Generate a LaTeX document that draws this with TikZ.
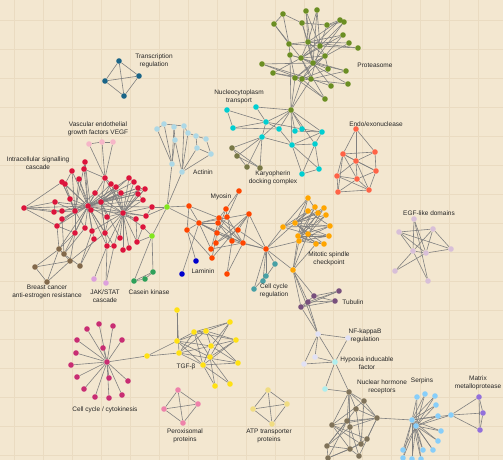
\documentclass[tikz,border=0pt]{standalone}
\usepackage{fontspec}
\setmainfont{Liberation Sans}
\pgfdeclarelayer{bg}
\pgfdeclarelayer{edges}
\pgfsetlayers{bg,edges,main}
\definecolor{paper}{RGB}{243,231,208}
\definecolor{gridc}{RGB}{234,219,193}
\definecolor{edgec}{RGB}{128,128,128}
\definecolor{ctr}{RGB}{26,100,135}
\definecolor{cvegf}{RGB}{246,182,200}
\definecolor{cred}{RGB}{220,20,60}
\definecolor{clime}{RGB}{130,230,30}
\definecolor{cact}{RGB}{173,216,230}
\definecolor{ccas}{RGB}{46,160,90}
\definecolor{cbr}{RGB}{130,105,75}
\definecolor{cjak}{RGB}{221,160,221}
\definecolor{cmyo}{RGB}{255,69,0}
\definecolor{clam}{RGB}{0,0,205}
\definecolor{cccr}{RGB}{72,160,165}
\definecolor{cmit}{RGB}{255,165,0}
\definecolor{ctub}{RGB}{120,80,125}
\definecolor{cnf}{RGB}{225,225,245}
\definecolor{chyp}{RGB}{175,238,238}
\definecolor{cnr}{RGB}{128,115,90}
\definecolor{cser}{RGB}{135,206,250}
\definecolor{cmmp}{RGB}{147,112,219}
\definecolor{cegf}{RGB}{216,191,216}
\definecolor{cendo}{RGB}{255,99,71}
\definecolor{cnuc}{RGB}{0,206,209}
\definecolor{ckar}{RGB}{120,120,70}
\definecolor{cpro}{RGB}{107,142,35}
\definecolor{ccyt}{RGB}{200,45,115}
\definecolor{ctgf}{RGB}{255,225,20}
\definecolor{cper}{RGB}{238,130,170}
\definecolor{catp}{RGB}{240,220,130}
\tikzset{
  dot/.style={circle,inner sep=0pt,minimum size=5.6pt,draw=none},
  edge/.style={draw=edgec,line width=0.6pt},
  lbl/.style={inner sep=0pt,align=center,font=\fontsize{6.5}{8}\selectfont,text=black!85}
}
\newcommand\placedots[2]{\foreach \n/\x/\y in {#2} \node[dot,fill=#1] (\n) at (\x,\y) {};}
\newcommand\links[1]{\foreach \a/\b in {#1} \draw[edge] (\a) -- (\b);}
\begin{document}
\begin{tikzpicture}[x=1pt,y=-1pt]
\useasboundingbox (0,0) rectangle (503,460);
\begin{pgfonlayer}{bg}
\fill[paper] (0,0) rectangle (503,460);
\foreach \g in {14,43,...,503} \draw[gridc,line width=0.4pt] (\g,0) -- (\g,460);
\foreach \g in {20,49,...,460} \draw[gridc,line width=0.4pt] (0,\g) -- (503,\g);
\end{pgfonlayer}
% ---------------- nodes
\placedots{ctr}{tr1/119/61,tr2/105/81,tr3/139/76,tr4/124/96}
\placedots{cvegf}{v1/89/144,v2/102/142,v3/113/142}
\placedots{cred}{r1/85/162,r2/72/171,r3/84/169,r4/105/178,r5/62/182,r6/65/184,r7/79/179,r8/129/178,r9/134/182,r10/111/184,r11/116/187,r12/138/188,r13/145/189,r14/95/193,r15/121/193,r16/138/194,r17/70/199,r18/55/202,r19/101/202,r20/143/200,r21/24/208,r22/54/212,r23/62/211,r24/75/211,r25/91/210,r26/152/207,r27/107/217,r28/123/213,r29/136/219,r30/146/216,r31/62/219,r32/57/226,r33/75/233,r34/85/228,r35/92/231,r36/105/233,r37/143/227,r38/94/239,r39/120/238,r40/107/246,r41/114/246,r42/123/250,r43/129/248,r44/137/242,rA/88/206}
\placedots{clime}{L1/167/207,L2/152/236}
\placedots{cact}{a1/164/124,a2/157/129,a3/174/127,a4/184/126,a5/188/133,a6/196/136,a7/206/139,a8/175/140,a9/197/148,a10/211/154,a11/172/164,a12/182/172}
\placedots{ccas}{c1/134/281,c2/145/279,c3/153/272}
\placedots{cbr}{b1/59/249,b2/64/254,b3/70/261,b4/80/266,b5/35/267,b6/47/282}
\placedots{cjak}{j1/94/279,j2/106/283}
\placedots{cmyo}{m1/239/191,m2/189/206,m3/226/209,m4/249/214,m5/199/223,m6/219/218,m7/227/217,m8/218/223,m9/187/230,m10/217/233,m11/238/230,m12/232/241,m13/216/243,m14/243/243,m15/211/249,m16/212/258,m17/227/274,mh/266/249}
\placedots{clam}{ln1/196/261,ln2/182/274}
\placedots{cccr}{t1/275/264,t2/266/276,t3/263/281,t4/254/289}
\placedots{cmit}{o1/308/198,o2/315/207,o3/308/211,o4/324/208,o5/318/213,o6/326/215,o7/295/223,o8/283/227,o9/330/226,o10/298/236,o11/308/234,o12/329/236,o13/299/241,o14/316/244,o15/324/244,o16/293/270}
\placedots{ctub}{u1/339/291,u2/335/301,u3/314/296,u4/308/302,u5/301/307}
\placedots{cnf}{n1/318/334,n2/348/338,n3/315/357,n4/304/364}
\placedots{chyp}{h1/335/362,h2/325/389}
\placedots{cnr}{nr1/349/392,nr2/364/401,nr3/356/409,nr4/377/418,nr5/347/421,nr6/332/425,nr7/350/427,nr8/367/439,nr9/361/444,nr10/350/449,nr11/327/446,nr12/359/456,nr13/328/458}
\placedots{cser}{sh/412/420,sh2/416/426,s1/417/397,s2/425/394,s3/435/396,s4/436/405,s5/438/416,s6/441/431,s7/438/441,s8/433/450,s9/403/450,s10/403/458,s11/412/459,s12/421/459,s13/423/450,sx/451/415}
\placedots{cmmp}{mm1/479/397,mm2/483/413,mm3/480/430}
\placedots{cegf}{e1/414/219,e2/399/232,e3/433/229,e4/413/251,e5/426/253,e6/451/249,e7/395/271,e8/428/281}
\placedots{cendo}{x1/356/129,x2/343/154,x3/375/152,x4/356/161,x5/376/171,x6/337/176,x7/357/179,x8/338/192,x9/369/190}
\placedots{cnuc}{nc1/227/110,nc2/256/107,nc3/266/122,nc4/233/128,nc5/279/129,nc6/262/137,nc7/295/131,nc8/302/129,nc9/322/132,nc10/292/145,nc11/315/144,nc12/302/174,nc13/319/169}
\placedots{ckar}{k1/232/148,k2/237/156,k3/247/167,k4/260/168}
\placedots{cpro}{oh/291/110,p1/283/14,p2/306/11,p3/317/10,p4/274/24,p5/302/23,p6/327/25,p7/340/20,p8/344/22,p9/343/35,p10/289/44,p11/308/42,p12/320/46,p13/349/43,p14/358/48,p15/290/55,p16/301/58,p17/313/63,p18/325/56,p19/262/64,p20/328/69,p21/346/71,p22/273/73,p23/295/78,p24/302/79,p25/311/79,p26/331/86,p27/348/84,p28/325/99}
\placedots{ccyt}{cyh/107/362,cy1/87/329,cy2/99/324,cy3/113/326,cy4/77/340,cy5/122/340,cy6/103/348,cy7/76/353,cy8/71/365,cy9/77/377,cy10/109/378,cy11/128/381,cy12/84/389,cy13/122/395,cy14/95/397,cy15/109/398}
\placedots{ctgf}{y1/147/356,y2/177/310,y3/194/332,y4/206/331,y5/230/322,y6/177/341,y7/211/346,y8/236/340,y9/179/353,y10/210/357,y11/203/365,y12/238/363,y13/215/386,y14/230/384}
\placedots{cper}{pp1/178/390,pp2/164/409,pp3/198/404,pp4/183/423}
\placedots{catp}{at1/268/390,at2/253/409,at3/287/404,at4/272/424}
% ---------------- edges
\begin{pgfonlayer}{edges}
\links{tr1/tr2,tr1/tr3,tr2/tr3,tr1/tr4,tr2/tr4,tr3/tr4}
\links{v1/v2,v2/v3,v1/r4,v2/r4,v3/r4}
\foreach \i in {1,...,27,29,30,31,32,33,34,35,36,38,40,41} \draw[edge] (rA) -- (r\i);
\foreach \i in {4,8,9,10,11,12,13,14,15,16,19,20,25,26,27,29,30,35,36,37,39,40,41,42,43,44} \draw[edge] (r28) -- (r\i);
\foreach \i in {1,2,6,7,17,22,31,32,33,34,14,19,5,18} \draw[edge] (r24) -- (r\i);
\foreach \i in {4,8,10,11,15,27,36,39,40,12,16} \draw[edge] (r19) -- (r\i);
\links{r21/r18,r21/r22,r21/r5,r21/r32,r21/r23,r1/r3,r3/r4,r2/r6,r5/r17,r18/r22,r32/r33,r8/r9,r12/r13,r16/r20,r29/r44,r42/r43,r40/r41,r37/r44,r26/r30,r13/r28,r11/r36,r7/r25,r4/r10,r1/r25}
\links{L1/a11,L1/a12,L1/r26,L1/r30,L1/L2,L1/m2,L1/m5,L2/r37,L2/r44,L2/c3,L2/c1}
\links{a2/a1,a1/a4,a2/a11,a1/a11,a3/a11,a8/a11,a3/a8,a4/a5,a5/a6,a6/a7,a6/a9,a7/a10,a9/a10,a9/a12,a10/a12,a5/a12,a8/a12,a4/a12}
\links{c1/c2,c2/c3,c1/c3}
\links{b5/b1,b5/b3,b5/b6,b6/b1,b6/b3,b1/b2,b2/b4,b1/b3,b1/r32,b1/r33,b2/r34,b3/r33,b4/r38,b2/rA,b1/rA,b4/r35,b3/r36,b2/r31}
\links{j1/r40,j2/r40,j2/r41}
\links{m1/m3,m1/m7,m2/m5,m2/m9,m5/m6,m5/m8,m5/m10,m5/m12,m5/m14,m5/m4,m3/m6,m3/m7,m3/m12,m4/m13,m4/m14,m4/m11,m6/m11,m7/m14,m8/m12,m10/m14,m9/m5,m9/m16,m15/m5,m15/m14,m16/m4,m17/m12,m17/m14,m13/m11,m12/mh,m14/mh,m11/mh,m4/mh,m16/m10,m6/m14,m7/m10,m3/m10,m8/m14,m15/m8,m2/m6}
\links{ln1/m9,ln2/m5}
\links{mh/t1,mh/t2,mh/t3,mh/t4,t1/t3,t2/t4}
\links{o7/o1,o7/o2,o7/o3,o7/o4,o7/o5,o7/o6,o7/o9,o7/o11,o7/o12,o7/o14,o7/o15,o10/o1,o10/o2,o10/o4,o10/o6,o10/o9,o10/o12,o10/o14,o10/o15,o13/o2,o13/o5,o13/o9,o13/o12,o13/o15,o8/o1,o8/o3,o8/o5,o8/o9,o8/o11,o11/o4,o11/o6,o11/o12,o3/o9,o1/o5,mh/o8,mh/o7,mh/o16,mh/o13,o16/o10,o16/o13,o16/o11,o16/o14}
\links{u5/u1,u5/u2,u4/u1,u4/u2,u3/u1,u3/u2,u3/u5,o16/u5,o16/u4,o16/u3,o16/n1,u5/n1,u4/n1}
\links{n1/n2,n2/h1,n1/h1,n1/n3,n1/n4,n4/h1,n3/h1,h1/h2,h1/nr1,h2/nr1}
\links{nr1/nr2,nr1/nr4,nr1/nr3,nr1/nr5,nr1/nr6,nr1/nr7,nr1/nr10,nr2/nr4,nr2/nr6,nr2/nr9,nr3/nr4,nr3/nr11,nr4/nr5,nr4/nr6,nr4/nr7,nr4/nr8,nr4/nr12,nr5/nr11,nr5/nr13,nr6/nr8,nr6/nr9,nr6/nr10,nr7/nr11,nr7/nr12,nr8/nr10,nr9/nr13,nr10/nr11,nr10/nr13,nr11/nr13,nr12/nr10,nr3/nr9,nr4/sh}
\foreach \i in {1,...,13} {\draw[edge] (sh) -- (s\i); \draw[edge] (sh2) -- (s\i);}
\links{sh/sx,sh2/sx,sx/mm1,sx/mm2,sx/mm3,mm1/mm2,mm2/mm3,mm1/mm3}
\links{e2/e3,e2/e4,e2/e5,e2/e6,e1/e4,e1/e5,e1/e8,e3/e4,e3/e5,e3/e6,e4/e5,e5/e6,e4/e7,e5/e7,e4/e8}
\links{x1/x2,x1/x3,x1/x4,x2/x3,x2/x4,x2/x5,x2/x6,x2/x8,x3/x4,x3/x5,x4/x5,x4/x6,x4/x7,x4/x9,x5/x7,x5/x9,x6/x7,x6/x8,x6/x9,x7/x8,x7/x9,x8/x9,x2/x7}
\links{nc1/nc3,nc1/nc4,nc4/nc3,nc4/nc5,nc2/oh,nc2/nc3,nc3/nc6,nc3/oh,nc3/nc5,nc3/nc8,nc6/oh,nc6/nc10,nc5/nc10,oh/nc5,oh/nc7,oh/nc10,oh/nc8,oh/nc11,oh/nc9,nc7/nc9,nc8/nc9,nc9/nc10,nc9/nc11,nc10/nc11,nc10/nc12,nc11/nc13,nc12/nc13,nc11/nc12,nc10/nc13}
\links{k1/nc6,k2/nc6,k3/nc6,k4/nc6,k1/k4,k2/k4,k1/k3}
\links{p1/p4,p1/p5,p1/p10,p4/p10,p2/p11,p2/p12,p3/p12,p3/p11,p3/p17,p5/p6,p5/p11,p5/p17,p6/p7,p6/p8,p6/p12,p7/p11,p7/p16,p8/p12,p8/p17,p9/p11,p9/p16,p9/p18,p10/p11,p10/p12,p10/p15,p11/p16,p11/p17,p11/p18,p11/p13,p12/p14,p12/p16,p12/p18,p12/p25,p13/p17,p14/p11,p15/p16,p15/p23,p16/p18,p16/p20,p16/p25,p17/p18,p17/p21,p17/p24,p18/p20,p18/p24,p19/p24,p19/p25,p19/p17,p20/p24,p21/p25,p22/p24,p22/p16,p22/p25,p23/p17,p23/p18,p24/p27,p25/p26,p26/p17,p27/p16,p28/p16,p28/p24,p28/p23,p2/p17,p4/p16,p15/p21}
\links{oh/p23,oh/p24,oh/p25,oh/p15}
\foreach \i in {1,...,15} \draw[edge] (cyh) -- (cy\i);
\links{cyh/y1,y1/y6,y1/y9,y2/y6,y2/y9,y6/y3,y6/y4,y6/y7,y6/y10,y6/y11,y9/y3,y9/y4,y9/y7,y9/y11,y9/y12,y3/y4,y3/y5,y3/y8,y3/y10,y3/y11,y4/y5,y4/y7,y4/y8,y4/y12,y5/y7,y5/y10,y7/y11,y7/y12,y7/y8,y10/y8,y10/y13,y10/y14,y11/y13,y11/y14,y11/y12,y8/y11}
\links{pp1/pp2,pp1/pp3,pp1/pp4,pp2/pp3,pp2/pp4,pp3/pp4}
\links{at1/at2,at1/at3,at1/at4,at2/at3,at2/at4,at3/at4}
\end{pgfonlayer}
% ---------------- labels
\node[lbl] (Ltr) at (154,61) {Transcription\\regulation};
\node[lbl] (Lvegf) at (98,129) {Vascular endothelial\\growth factors VEGF};
\node[lbl] (Lics) at (38,163) {Intracellular signalling\\cascade};
\node[lbl] (Lact) at (203,172) {Actinin};
\node[lbl] (Lnuc) at (239,97) {Nucleocytoplasm\\transport};
\node[lbl] (Lkar) at (273,178) {Karyopherin\\docking complex};
\node[lbl] (Lpro) at (375,65) {Proteasome};
\node[lbl] (Lendo) at (376,124) {Endo/exonuclease};
\node[lbl] (Lmyo) at (221,197) {Myosin};
\node[lbl] (Legf) at (429,213) {EGF-like domains};
\node[lbl] (Llam) at (203,271) {Laminin};
\node[lbl] (Lccr) at (274,291) {Cell cycle\\regulation};
\node[lbl] (Lmit) at (329,259) {Mitotic spindle\\checkpoint};
\node[lbl] (Lbc) at (47,292) {Breast cancer\\anti-estrogen resistance};
\node[lbl] (Ljak) at (105,296) {JAK/STAT\\cascade};
\node[lbl] (Lcas) at (149,292) {Casein kinase};
\node[lbl] (Ltub) at (353,302) {Tubulin};
\node[lbl] (Lnf) at (365,336) {NF-kappaB\\regulation};
\node[lbl] (Lhyp) at (367,363) {Hypoxia inducable\\factor};
\node[lbl] (Ltgf) at (186,367) {TGF-β};
\node[lbl] (Lnr) at (382,387) {Nuclear hormone\\receptors};
\node[lbl] (Lser) at (422,381) {Serpins};
\node[lbl] (Lmmp) at (478,383) {Matrix\\metalloprotease};
\node[lbl] (Lcyt) at (105,410) {Cell cycle / cytokinesis};
\node[lbl] (Lper) at (185,436) {Peroxisomal\\proteins};
\node[lbl] (Latp) at (269,436) {ATP transporter\\proteins};
\end{tikzpicture}
\end{document}
